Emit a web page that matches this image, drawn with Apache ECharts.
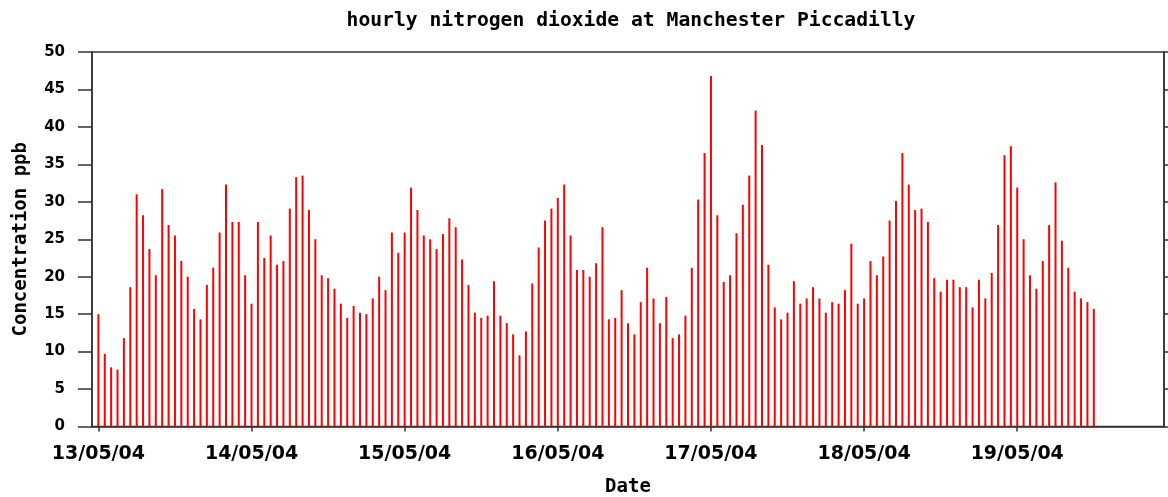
<!DOCTYPE html>
<html>
<head>
<meta charset="utf-8">
<script src="https://cdn.jsdelivr.net/npm/echarts@6/dist/echarts.min.js"></script>
<style>html,body{margin:0;padding:0;background:#fff;}#c{width:1168px;height:497px;}</style>
</head>
<body>
<div id="c"></div>
<script>
// Hourly NO2 (ppb), starting 13/05/04 00:00, one value per hour
const no2Values = [
  15.0, 9.7, 7.9, 7.6, 11.8, 18.6, 31.0, 28.2, 23.7, 20.2, 31.7, 26.9,
  25.5, 22.1, 20.0, 15.7, 14.3, 18.9, 21.2, 25.9, 32.3, 27.3, 27.3, 20.2,
  16.4, 27.3, 22.5, 25.5, 21.6, 22.1, 29.1, 33.3, 33.5, 28.9, 25.0, 20.2,
  19.8, 18.4, 16.4, 14.5, 16.1, 15.2, 15.0, 17.1, 20.0, 18.2, 25.9, 23.2,
  25.9, 31.9, 28.9, 25.5, 25.0, 23.7, 25.7, 27.8, 26.6, 22.3, 18.9, 15.2,
  14.5, 14.8, 19.4, 14.8, 13.8, 12.3, 9.5, 12.7, 19.1, 23.9, 27.5, 29.1,
  30.5, 32.3, 25.5, 20.9, 20.9, 20.0, 21.8, 26.6, 14.3, 14.5, 18.2, 13.8,
  12.3, 16.6, 21.2, 17.1, 13.8, 17.3, 11.8, 12.3, 14.8, 21.2, 30.3, 36.5,
  46.8, 28.2, 19.3, 20.2, 25.8, 29.6, 33.5, 42.2, 37.6, 21.6, 15.9, 14.3,
  15.2, 19.4, 16.4, 17.1, 18.6, 17.1, 15.2, 16.6, 16.4, 18.2, 24.4, 16.4,
  17.1, 22.1, 20.2, 22.7, 27.5, 30.1, 36.5, 32.3, 28.9, 29.1, 27.3, 19.8,
  18.0, 19.6, 19.6, 18.6, 18.6, 15.9, 19.6, 17.1, 20.5, 26.9, 36.2, 37.4,
  31.9, 25.0, 20.2, 18.4, 22.1, 26.9, 32.6, 24.8, 21.2, 18.0, 17.1, 16.6,
  15.7
];
const dateLabels = ['13/05/04','14/05/04','15/05/04','16/05/04','17/05/04','18/05/04','19/05/04'];
const dateTickHours = [0, 24, 48, 72, 96, 120, 144];

const chart = echarts.init(document.getElementById('c'), null, {renderer: 'canvas'});
const axisCol = '#333';
const seriesData = no2Values.map((v, i) => [i, v]);

chart.setOption({
  animation: false,
  backgroundColor: '#fff',
  title: {
    text: 'hourly nitrogen dioxide at Manchester Piccadilly',
    left: 626, textAlign: 'center', top: 6,
    textStyle: {fontFamily: 'DejaVu Sans Mono', fontWeight: 'bold', fontSize: 19.7, color: '#000'}
  },
  grid: {left: 92, right: 4, top: 52, bottom: 70.5, show: true, borderColor: axisCol, borderWidth: 1.5,
    backgroundColor: 'transparent', containLabel: false, outerBoundsMode: 'none'},
  xAxis: {
    type: 'value', min: -1, max: 167,
    name: 'Date', nameLocation: 'middle', nameGap: 51,
    nameTextStyle: {fontFamily: 'DejaVu Sans Mono', fontWeight: 'bold', fontSize: 19, color: '#000'},
    axisLine: {show: true, onZero: false, lineStyle: {color: axisCol, width: 1.5}},
    axisTick: {show: true, length: 5, lineStyle: {color: axisCol, width: 1.5}, customValues: dateTickHours},
    axisLabel: {
      customValues: dateTickHours, margin: 18,
      fontFamily: 'DejaVu Sans', fontWeight: 'bold', fontSize: 19, color: '#000',
      formatter: v => dateLabels[dateTickHours.indexOf(v)] || ''
    },
    splitLine: {show: false}
  },
  yAxis: [{
    type: 'value', min: 0, max: 50, interval: 5, position: 'left',
    name: 'Concentration ppb', nameLocation: 'middle', nameGap: 61,
    nameTextStyle: {fontFamily: 'DejaVu Sans Mono', fontWeight: 'bold', fontSize: 19, color: '#000'},
    axisLine: {show: true, onZero: false, lineStyle: {color: axisCol, width: 1.5}},
    axisTick: {show: true, length: 14, lineStyle: {color: axisCol, width: 1.5}},
    axisLabel: {margin: 27, fontFamily: 'DejaVu Sans', fontWeight: 'bold', fontSize: 15, color: '#000'},
    splitLine: {show: false}
  }, {
    type: 'value', min: 0, max: 50, interval: 5, position: 'right',
    axisLine: {show: true, onZero: false, lineStyle: {color: axisCol, width: 1.5}},
    axisTick: {show: true, length: 14, lineStyle: {color: axisCol, width: 1.5}},
    axisLabel: {show: false},
    splitLine: {show: false}
  }],
  series: [{
    type: 'bar',
    data: seriesData,
    barWidth: 2,
    itemStyle: {color: '#ff0000'},
    silent: true
  }]
});
</script>
</body>
</html>
